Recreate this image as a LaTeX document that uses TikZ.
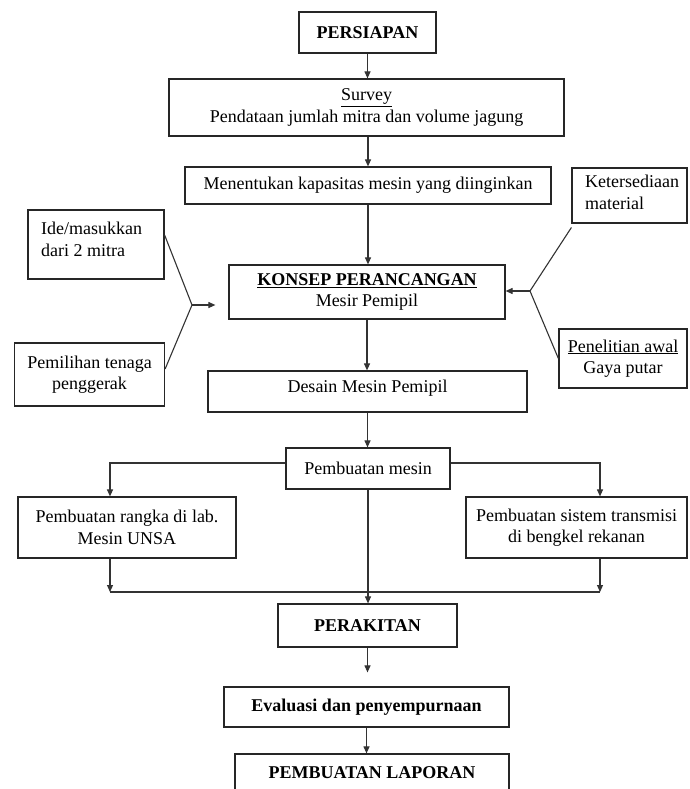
\documentclass[tikz,border=0pt]{standalone}
\usepackage{fontspec}
\setmainfont{Liberation Serif}
\usetikzlibrary{arrows.meta,calc}
\newcommand\fsz{\fontsize{18}{21.5}\selectfont}
\tikzset{
  box/.style={draw=black!85, line width=1.2pt, inner sep=0pt, align=center, font=\fsz},
  txt/.style={inner sep=0pt, align=left, font=\fsz},
  arr/.style={draw=black!80, line width=1.1pt, -{Triangle[length=7pt,width=6pt]}},
  ln/.style={draw=black!80, line width=1.1pt},
}
\begin{document}
\begin{tikzpicture}[x=1pt,y=-1pt]
\useasboundingbox (0,0) rectangle (689,789);
\clip (0,0) rectangle (689,789);
\fill[white] (0,0) rectangle (689,789);

% nodes
\node[box, minimum width=137pt, minimum height=41pt] (persiapan) at (367.5,32.5) {\textbf{PERSIAPAN}};
\node[box, minimum width=395pt, minimum height=57pt] (survey) at (366.5,107.5) {\underline{Survey}\\Pendataan jumlah mitra dan volume jagung};
\node[box, minimum width=366pt, minimum height=37pt] (menentukan) at (368,185.5) {Menentukan kapasitas mesin yang diinginkan};
\node[box, minimum width=115pt, minimum height=55pt] (ketersediaan) at (629.5,195.5) {};
\node[txt, anchor=north west] (ketersediaant) at (585,175) {Ketersediaan\\material};
\node[box, minimum width=136pt, minimum height=69pt] (ice) at (96,244.5) {};
\node[txt, anchor=north west] (icet) at (41,222) {Ide/masukkan\\dari 2 mitra};
\node[box, minimum width=276pt, minimum height=54pt] (konsep) at (367,292) {\underline{\textbf{KONSEP PERANCANGAN}}\\Mesir Pemipil};
\node[box, minimum width=150pt, minimum height=63pt] (pemilihan) at (89.5,374.5) {Pemilihan tenaga\\penggerak};
\node[box, minimum width=128pt, minimum height=59pt] (penelitian) at (623,358.5) {\underline{Penelitian awal}\\Gaya putar};
\node[box, minimum width=319pt, minimum height=41pt] (desain) at (367.5,391.5) {};
\node[txt, align=center] (desaint) at (367.5,388) {Desain Mesin Pemipil};
\node[box, minimum width=164pt, minimum height=41pt] (pmesin) at (368,468.5) {Pembuatan mesin};
\node[box, minimum width=218pt, minimum height=61pt] (rangka) at (127,527.5) {Pembuatan rangka di lab.\\Mesin UNSA};
\node[box, minimum width=221pt, minimum height=61pt] (sistem) at (576.5,527.5) {Pembuatan sistem transmisi\\di bengkel rekanan};
\node[box, minimum width=179pt, minimum height=43pt] (perakitan) at (367.5,625.5) {\textbf{PERAKITAN}};
\node[box, minimum width=285pt, minimum height=40pt] (evaluasi) at (366.5,707) {\textbf{Evaluasi dan penyempurnaan}};
\node[box, minimum width=274pt, minimum height=38pt] (laporan) at (372,773) {\textbf{PEMBUATAN LAPORAN}};

% connectors
\draw[arr] (persiapan.south) -- (persiapan.south |- survey.north);
\draw[arr] (survey.south -| menentukan.north) -- (menentukan.north);
\draw[arr] (menentukan.south) -- (menentukan.south |- konsep.north);
\draw[arr] (konsep.south) -- (konsep.south |- desain.north);
\draw[arr] (desain.south) -- (desain.south |- pmesin.north);
\draw[arr] ([yshift=5.5pt]pmesin.west) -| ([xshift=-17pt]rangka.north);
\draw[arr] ([yshift=5.5pt]pmesin.east) -| ([xshift=23.5pt]sistem.north);
\coordinate (jl) at (110,592);
\coordinate (jr) at (600,592);
\draw[arr] ([xshift=-17pt]rangka.south) -- (jl);
\draw[arr] ([xshift=23.5pt]sistem.south) -- (jr);
\draw[ln] (jl) -- (jr);
\draw[arr] (pmesin.south) -- (pmesin.south |- perakitan.north);
\draw[arr, shorten >=14pt] (perakitan.south) -- (perakitan.south |- evaluasi.north);
\draw[arr] (evaluasi.south) -- (evaluasi.south |- laporan.north);

% side inputs
\coordinate (apl) at (192,305);
\draw[ln] ([yshift=9.5pt]ice.east) -- (apl) -- ([yshift=5.5pt]pemilihan.east);
\draw[arr, shorten >=13pt] (apl) -- (apl -| konsep.west);
\coordinate (apr) at (530,291);
\draw[ln] ([yshift=-32pt]ketersediaan.west) -- (apr) -- (penelitian.west);
\draw[arr] (apr) -- (apr -| konsep.east);
\end{tikzpicture}
\end{document}
